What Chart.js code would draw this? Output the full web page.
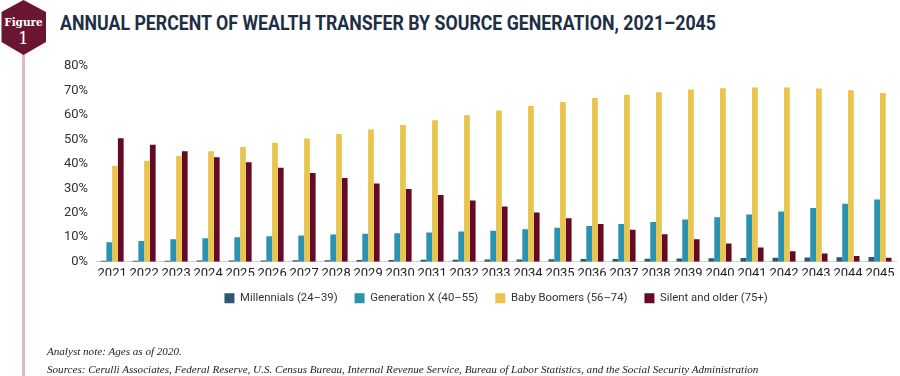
<!DOCTYPE html>
<html>
<head>
<meta charset="utf-8">
<script src="https://cdn.jsdelivr.net/npm/chart.js@4.4.1/dist/chart.umd.min.js"></script>
<style>
  html, body { margin: 0; padding: 0; background: #fff; }
  #wrap { position: relative; width: 900px; height: 376px; overflow: hidden; }
  #chart { position: absolute; left: 0; top: 0; }
  #title { position: absolute; left: 60px; top: 11px; font-family: Roboto, sans-serif; font-weight: 700; font-size: 20px; color: #1d2f45; white-space: nowrap; transform-origin: left top; }
  #badge { position: absolute; left: 0; top: 0; }
  .note { position: absolute; left: 47px; font-family: "Liberation Serif", serif; font-style: italic; font-size: 11.1px; color: #222; white-space: nowrap; }
</style>
</head>
<body>
<div id="wrap">
  <svg id="badge" width="50" height="376" viewBox="0 0 50 376">
    <line x1="23.5" y1="50" x2="23.5" y2="376" stroke="#d9bcc3" stroke-width="3"/>
    <polygon points="23.5,0 46,12 46,42 23.5,55 1.5,42 1.5,12" fill="#6b1631"/>
    <text x="23.5" y="26" text-anchor="middle" font-family="DejaVu Serif, serif" font-weight="700" font-size="10.5" fill="#fff">Figure</text>
    <text x="23.5" y="44" text-anchor="middle" font-family="DejaVu Serif, serif" font-size="17" fill="#fff">1</text>
  </svg>
  <div id="title">ANNUAL PERCENT OF WEALTH TRANSFER BY SOURCE GENERATION, 2021–2045</div>
  <canvas id="chart" width="900" height="376"></canvas>
  <div class="note" style="top:345px;">Analyst note: Ages as of 2020.</div>
  <div class="note" style="top:363px;">Sources: Cerulli Associates, Federal Reserve, U.S. Census Bureau, Internal Revenue Service, Bureau of Labor Statistics, and the Social Security Administration</div>
</div>
<script>
const years = ["2021","2022","2023","2024","2025","2026","2027","2028","2029","2030","2031","2032","2033","2034","2035","2036","2037","2038","2039","2040","2041","2042","2043","2044","2045"];
const millennials = [0.4,0.4,0.4,0.5,0.5,0.5,0.6,0.6,0.7,0.7,0.8,0.8,0.9,0.9,1.0,1.1,1.1,1.2,1.3,1.4,1.5,1.6,1.7,1.8,1.9];
const genX = [8.0,8.5,9.2,9.6,10.0,10.4,10.7,11.1,11.4,11.6,11.9,12.3,12.7,13.3,13.9,14.6,15.4,16.2,17.2,18.2,19.3,20.5,22.0,23.7,25.4];
const boomers = [39.2,41.3,43.2,45.1,46.9,48.6,50.4,52.2,54.0,55.9,57.8,59.9,61.8,63.6,65.3,66.9,68.2,69.3,70.4,70.9,71.2,71.2,70.8,70.1,69.0];
const silent = [50.5,47.8,45.1,42.7,40.7,38.4,36.3,34.2,32.0,29.7,27.3,25.0,22.6,20.1,17.8,15.4,13.1,11.2,9.2,7.4,5.8,4.3,3.4,2.3,1.6];
const seriesNames = ["Millennials (24–39)","Generation X (40–55)","Baby Boomers (56–74)","Silent and older (75+)"];
const yTicks = [0,10,20,30,40,50,60,70,80];

(function(){
  const t = document.getElementById('title');
  const w = t.getBoundingClientRect().width;
  t.style.transform = 'scaleX(' + (656 / w) + ')';
})();

const colors = ["#2f5673","#2a93ad","#e9c550","#650a24"];
const dataArr = [millennials, genX, boomers, silent];

// centre the legend under the plot area rather than the whole canvas
const legendCentre = {
  id: 'legendCentre',
  afterLayout(chart) {
    const lg = chart.legend, ca = chart.chartArea;
    if (!lg || !ca) return;
    const shift = (ca.left + ca.right) / 2 - (lg.left + lg.right) / 2;
    lg.left += shift; lg.right += shift;
  }
};

new Chart(document.getElementById('chart'), {
  type: 'bar',
  data: {
    labels: years,
    datasets: seriesNames.map((n, i) => ({
      label: n,
      data: dataArr[i],
      backgroundColor: colors[i],
      borderWidth: 0,
      barPercentage: 1.0,
      categoryPercentage: 0.72
    }))
  },
  plugins: [legendCentre],
  options: {
    responsive: false,
    animation: false,
    devicePixelRatio: 1,
    layout: { padding: { left: 56, right: 4, top: 66, bottom: 62 } },
    plugins: {
      legend: {
        position: 'bottom',
        labels: {
          boxWidth: 10, boxHeight: 10, padding: 17,
          color: '#333',
          font: { family: 'Roboto', size: 11.3 }
        }
      },
      tooltip: { enabled: false }
    },
    scales: {
      x: {
        grid: { display: false, drawTicks: false },
        border: { display: true, color: '#cfcfcf', width: 1 },
        ticks: { color: '#222', font: { family: 'Roboto', size: 13 }, padding: 4, maxRotation: 0, autoSkip: false },
        afterFit: (s) => { s.height = 14; }
      },
      y: {
        min: 0, max: 80,
        afterBuildTicks: (s) => { s.ticks = yTicks.map(v => ({ value: v })); },
        grid: { display: false, drawTicks: false },
        border: { display: false },
        ticks: { color: '#333', font: { family: 'Roboto', size: 13 }, padding: 8, callback: v => v + '%' }
      }
    }
  }
});
</script>
</body>
</html>
